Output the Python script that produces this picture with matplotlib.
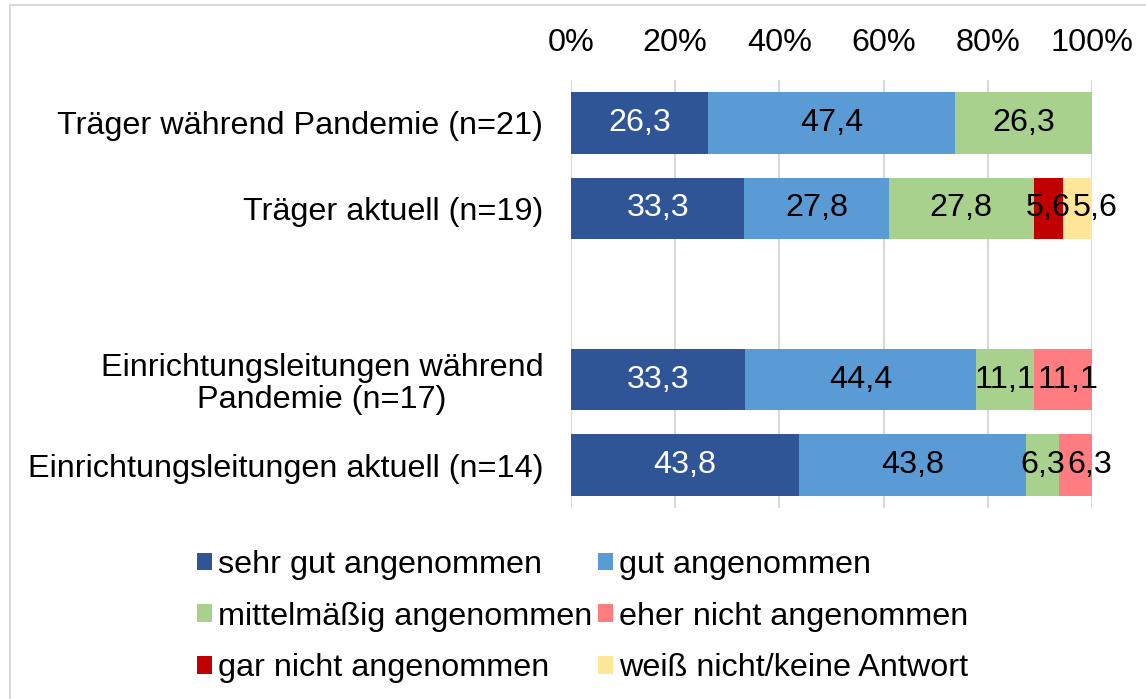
import numpy as np
import matplotlib

matplotlib.use("Agg")
import matplotlib.pyplot as plt
from matplotlib.lines import Line2D

plt.rcParams["font.family"] = ["Liberation Sans", "DejaVu Sans"]

# data
categories = [
    "Träger während Pandemie (n=21)",
    "Träger aktuell (n=19)",
    "",
    "Einrichtungsleitungen während\nPandemie (n=17)",
    "Einrichtungsleitungen aktuell (n=14)",
]
series_names = [
    "sehr gut angenommen",
    "gut angenommen",
    "mittelmäßig angenommen",
    "eher nicht angenommen",
    "gar nicht angenommen",
    "weiß nicht/keine Antwort",
]
sehr_gut = [26.3, 33.3, 0, 33.3, 43.8]
gut = [47.4, 27.8, 0, 44.4, 43.8]
mittel = [26.3, 27.8, 0, 11.1, 6.3]
eher_nicht = [0, 0, 0, 11.1, 6.3]
gar_nicht = [0, 5.6, 0, 0, 0]
weiss_nicht = [0, 5.6, 0, 0, 0]
x_ticks = [0, 20, 40, 60, 80, 100]

colors = ["#2F5597", "#5B9BD5", "#A9D18E", "#FF7C80", "#C00000", "#FFE699"]
label_colors = ["white", "black", "black", "black", "black", "black"]
FS = 23.3

values = np.array([sehr_gut, gut, mittel, eher_nicht, gar_nicht, weiss_nicht], dtype=float)
totals = values.sum(axis=0)
shares = np.divide(values * 100, totals, out=np.zeros_like(values), where=totals > 0)

fig = plt.figure(figsize=(11.46, 6.99), dpi=100)
ax = fig.add_axes([571 / 1146, 1 - 508 / 699, 521 / 1146, 428 / 699])

ypos = np.arange(len(categories))
left = np.zeros(len(categories))
row_labels = {j: [] for j in range(len(categories))}
for i, name in enumerate(series_names):
    ax.barh(ypos, shares[i], left=left, height=0.72, color=colors[i], label=name, zorder=2)
    for j in range(len(categories)):
        if values[i, j] > 0:
            t = ax.text(left[j] + shares[i, j] / 2, ypos[j], f"{values[i, j]:.1f}".replace(".", ","),
                        ha="center", va="center", fontsize=FS, color=label_colors[i], zorder=3)
            row_labels[j].append(t)
    left += shares[i]

ax.set_xlim(0, 100)
ax.set_ylim(len(categories) - 0.5, -0.5)
ax.set_xticks(x_ticks)
ax.set_xticklabels([f"{t}%" for t in x_ticks])
ax.xaxis.tick_top()
ax.set_yticks(ypos)
ax.set_yticklabels(categories)
for lbl in ax.get_yticklabels():
    lbl.set_multialignment("center")
    lbl.set_linespacing(1.1)
ax.tick_params(axis="x", length=0, pad=16, labelsize=FS)
ax.tick_params(axis="y", length=0, pad=20, labelsize=FS)
ax.grid(axis="x", color="#d9d9d9", linewidth=1.5, zorder=0)
for s in ax.spines.values():
    s.set_visible(False)

# push overlapping data labels apart (like Excel does for narrow segments)
renderer = fig.canvas.get_renderer()
px_per_unit = ax.transData.transform((1, 0))[0] - ax.transData.transform((0, 0))[0]
for j, texts in row_labels.items():
    prev_right = None
    for t in texts:
        bb = t.get_window_extent(renderer)
        if prev_right is not None and bb.x0 < prev_right + 2:
            shift = prev_right + 2 - bb.x0
            x, y = t.get_position()
            t.set_position((x + shift / px_per_unit, y))
            bb = t.get_window_extent(renderer)
        prev_right = bb.x1

handles, labels = ax.get_legend_handles_labels()
order = [0, 2, 4, 1, 3, 5]
fig.legend([handles[k] for k in order], [labels[k] for k in order], ncol=2, loc="upper left",
           bbox_to_anchor=(197 / 1146, 1 - 550 / 699),
           frameon=False, fontsize=FS, handlelength=0.45, handleheight=0.45, handletextpad=0.2,
           columnspacing=0.18, labelspacing=0.67, borderpad=0, borderaxespad=0)

# figure border (top and left only)
fig.add_artist(Line2D([10 / 1146, 1], [1 - 5 / 699, 1 - 5 / 699], color="#d9d9d9", linewidth=1.5))
fig.add_artist(Line2D([10 / 1146, 10 / 1146], [0, 1 - 5 / 699], color="#d9d9d9", linewidth=1.5))

fig.savefig("out.png", dpi=100)
